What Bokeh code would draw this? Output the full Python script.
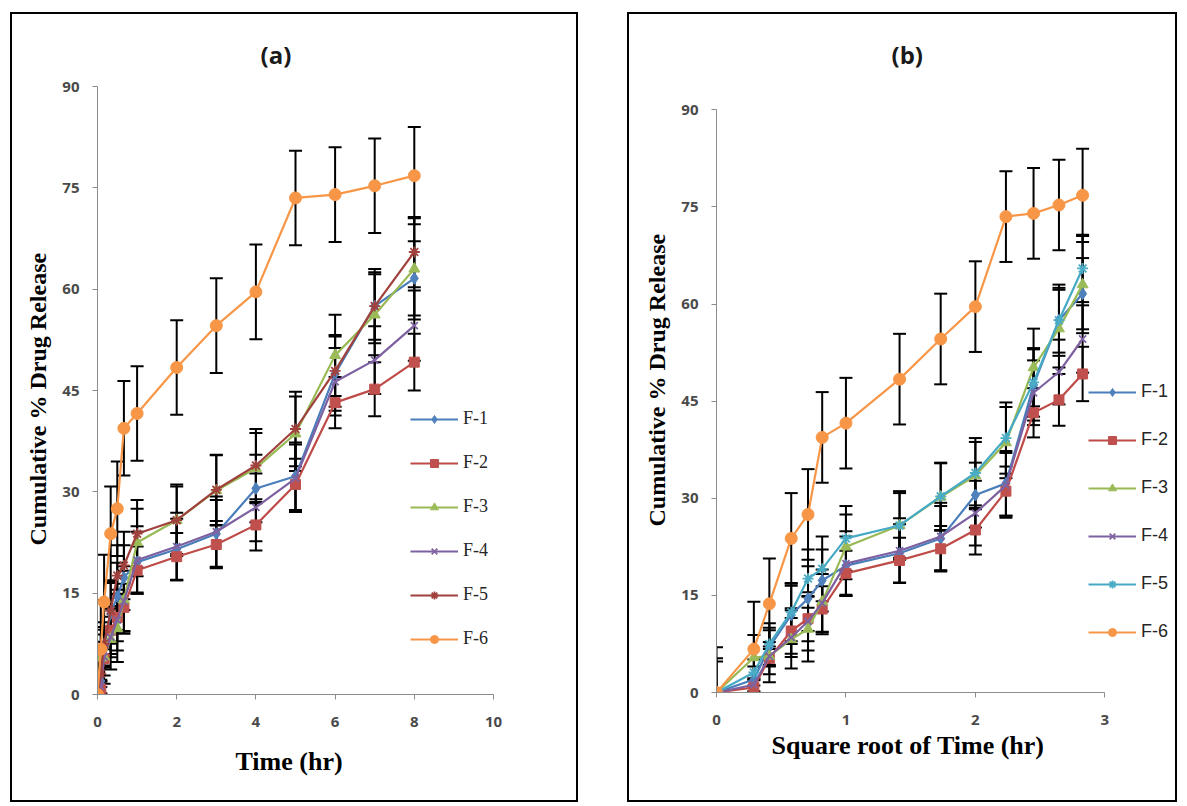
import math
from bokeh.plotting import figure
from bokeh.models import (ColumnDataSource, Whisker, TeeHead, Legend, LegendItem,
                          FixedTicker, Range1d, Spacer, Title)
from bokeh.layouts import row, column
from bokeh.embed import file_html
from bokeh.resources import INLINE

# ---------------- data ----------------
time_hr = [0, 0.0833, 0.1667, 0.3333, 0.5, 0.6667, 1, 2, 3, 4, 5, 6, 7, 8]
series_names = ["F-1", "F-2", "F-3", "F-4", "F-5", "F-6"]

f1 = [0, 2.0, 7.0, 12.0, 14.5, 17.3, 19.6, 21.5, 23.8, 30.5, 32.3, 47.5, 57.5, 61.6]
f2 = [0, 0.8, 5.3, 9.5, 11.4, 12.9, 18.4, 20.4, 22.2, 25.1, 31.1, 43.2, 45.2, 49.2]
f3 = [0, 5.4, 5.6, 8.2, 9.8, 14.0, 22.5, 25.8, 30.2, 33.5, 38.6, 50.2, 56.2, 63.0]
f4 = [0, 1.2, 5.6, 8.5, 11.0, 13.8, 19.9, 21.9, 24.1, 27.7, 32.0, 46.3, 49.5, 54.6]
f5 = [0, 3.1, 7.5, 12.4, 17.6, 19.1, 23.8, 25.8, 30.3, 33.9, 39.3, 47.9, 57.5, 65.5]
f6 = [0, 6.7, 13.7, 23.8, 27.5, 39.4, 41.6, 48.4, 54.6, 59.6, 73.5, 74.0, 75.3, 76.8]

sd1 = [0, 2.0, 3.0, 4.5, 5.0, 4.8, 4.5, 4.5, 5.0, 5.0, 5.0, 5.5, 5.0, 5.5]
sd2 = [0, 1.2, 2.5, 3.5, 3.5, 3.5, 3.5, 3.5, 3.5, 3.8, 3.8, 3.8, 4.0, 4.2]
sd3 = [5.3, 3.5, 4.0, 4.5, 5.0, 5.0, 5.0, 5.0, 5.2, 5.2, 5.5, 6.0, 6.0, 7.5]
sd4 = [0, 1.0, 1.5, 3.0, 4.5, 4.5, 5.0, 5.0, 5.2, 5.0, 5.0, 5.0, 5.0, 5.2]
sd5 = [4.8, 2.0, 3.2, 4.5, 4.5, 5.0, 5.0, 5.3, 5.2, 5.4, 5.5, 5.3, 5.5, 5.2]
sd6 = [7.0, 7.3, 7.0, 7.0, 7.0, 7.0, 7.0, 7.0, 7.0, 7.0, 7.0, 7.0, 7.0, 7.2]

y_ticks = [0, 15, 30, 45, 60, 75, 90]
x_ticks_a = [0, 2, 4, 6, 8, 10]
x_ticks_b = [0, 1, 2, 3]

values = [f1, f2, f3, f4, f5, f6]
errors = [sd1, sd2, sd3, sd4, sd5, sd6]

# ---------------- styles ----------------
base_styles = [
    dict(line="#4A7EBB", fill="#4F81BD", marker="diamond", size=12),
    dict(line="#BE4B48", fill="#C0504D", marker="square", size=10),
    dict(line="#98B954", fill="#9BBB59", marker="triangle", size=11),
    dict(line="#7D60A0", fill="#8064A2", marker="x", size=10),
    None,
    dict(line="#F79646", fill="#F79646", marker="circle", size=12),
]
f5_a = dict(line="#A0413D", fill="#A0413D", marker="asterisk", size=11)
f5_b = dict(line="#46AAC5", fill="#4BACC6", marker="asterisk", size=11)


def make_panel(xs, title, title_offset, xlabel, x_end, x_bound, xticks, y_end,
               f5_style, frame_w, frame_h, borders, legend_loc, legend_spacing,
               legend_font, legend_size, glyph_w, xlab, ylab):
    bl, br, bt, bb = borders
    p = figure(frame_width=frame_w, frame_height=frame_h,
               x_range=Range1d(0, x_end), y_range=Range1d(0, y_end),
               output_backend="svg", toolbar_location=None,
               min_border_left=bl, min_border_right=br,
               min_border_top=bt, min_border_bottom=bb,
               background_fill_color="white", border_fill_color="white")
    p.styles = {"border": "2px solid black"}
    p.outline_line_color = None
    p.xgrid.visible = False
    p.ygrid.visible = False

    p.title.text = title
    p.title.align = "left"
    p.title.offset = title_offset
    p.title.standoff = 32
    p.title.text_font = "Open Sans"
    p.title.text_font_style = "bold"
    p.title.text_font_size = "24px"
    p.title.text_color = "#1a1a1a"

    for ax, ticks in ((p.xaxis[0], xticks), (p.yaxis[0], y_ticks)):
        ax.ticker = FixedTicker(ticks=ticks)
        ax.minor_tick_line_color = None
        ax.axis_line_color = "#8c8c8c"
        ax.major_tick_line_color = "#8c8c8c"
        ax.major_tick_in = 0
        ax.major_tick_out = 5
        ax.major_label_text_font = "Open Sans"
        ax.major_label_text_font_style = "bold"
        ax.major_label_text_font_size = "15px"
        ax.major_label_text_color = "#4a4a4a"
    p.yaxis.bounds = (0, 90)
    p.xaxis.bounds = (0, x_bound)
    p.xaxis.major_label_standoff = 17
    p.yaxis.major_label_standoff = 13

    # axis titles as side titles, left-aligned with an offset along the axis
    xo, xs_off = xlab
    yo, ys_off = ylab
    xt = Title(text=xlabel, align="left", offset=xo, standoff=xs_off,
               text_font="Liberation Serif", text_font_style="bold",
               text_font_size="26px", text_color="black")
    p.add_layout(xt, "below")
    yt = Title(text="Cumulative % Drug Release", align="left", offset=yo,
               standoff=ys_off, text_font="Liberation Serif", text_font_style="bold",
               text_font_size="24px", text_color="black")
    p.add_layout(yt, "left")

    items = []
    for i, (name, ys, sd) in enumerate(zip(series_names, values, errors)):
        st = f5_style if i == 4 else base_styles[i]
        src = ColumnDataSource(dict(
            x=xs, y=ys,
            upper=[a + b for a, b in zip(ys, sd)],
            lower=[a - b for a, b in zip(ys, sd)]))
        w = Whisker(source=src, base="x", upper="upper", lower="lower",
                    line_color="black", line_width=2, level="underlay",
                    upper_head=TeeHead(size=13, line_color="black", line_width=2),
                    lower_head=TeeHead(size=13, line_color="black", line_width=2))
        p.add_layout(w)
        lr = p.line("x", "y", source=src, line_color=st["line"], line_width=2.2)
        if st["marker"] in ("x", "asterisk"):
            sr = p.scatter("x", "y", source=src, marker=st["marker"], size=st["size"],
                           line_color=st["fill"], line_width=1.8)
        else:
            sr = p.scatter("x", "y", source=src, marker=st["marker"], size=st["size"],
                           fill_color=st["fill"], line_color=st["fill"])
        items.append(LegendItem(label=name, renderers=[lr, sr]))

    legend = Legend(items=items, location=legend_loc, orientation="vertical",
                    glyph_width=glyph_w, glyph_height=20, label_height=20,
                    spacing=legend_spacing, padding=0, margin=0, label_standoff=5,
                    border_line_color=None, background_fill_alpha=0,
                    label_text_font=legend_font, label_text_font_size=legend_size,
                    label_text_color="#262626")
    p.add_layout(legend)
    return p


xs_a = time_hr
xs_b = [math.sqrt(t) for t in time_hr]

p1 = make_panel(xs_a, "(a)", 163, "Time (hr)", 10, 10, x_ticks_a, 90, f5_a, 392, 604,
                (85, 87, 72, 110), (313, 45), 23, "Liberation Serif", "18px", 48,
                (138, 31), (149, 18))
p2 = make_panel(xs_b, "(b)", 175, "Square root of Time (hr)", 3.577, 3, x_ticks_b, 93.6,
                f5_b, 459, 602, (87, 0, 72, 112), (372, 50), 27, "Liberation Sans",
                "18px", 48, (55, 2), (166, 18))

layout = column(Spacer(height=12),
                row(Spacer(width=10), p1, Spacer(width=49), p2, spacing=0),
                spacing=0)
open("out.html", "w").write(file_html(layout, INLINE))
